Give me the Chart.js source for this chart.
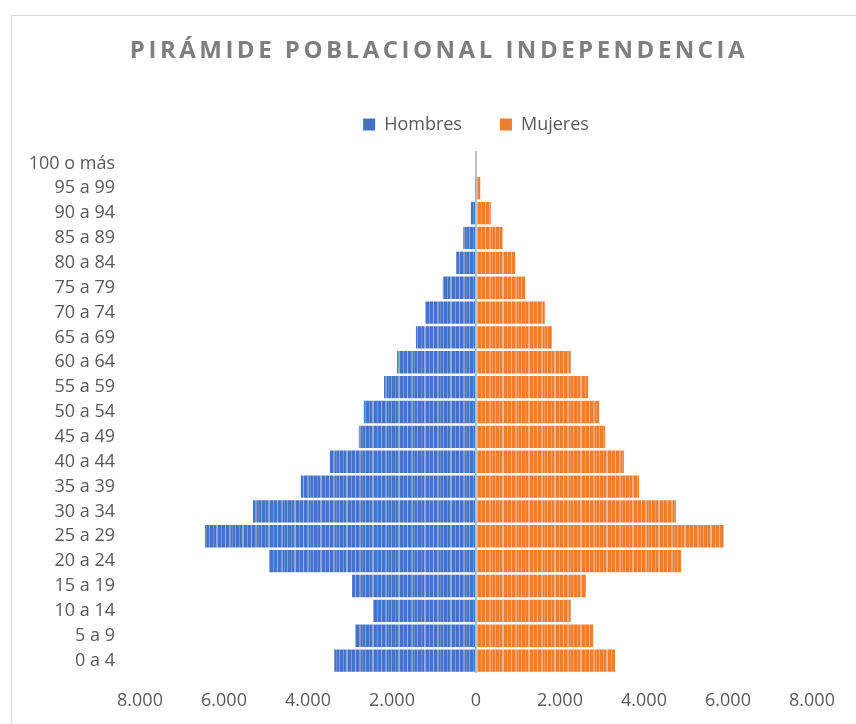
<!DOCTYPE html>
<html>
<head>
<meta charset="utf-8">
<script src="https://cdn.jsdelivr.net/npm/chart.js@4.4.1/dist/chart.umd.min.js"></script>
<style>
  html, body { margin: 0; padding: 0; background: #ffffff; overflow: hidden; }
  #frame { position: absolute; left: 11px; top: 15px; width: 900px; height: 800px;
           border-top: 1px solid #d9d9d9; border-left: 1px solid #d9d9d9; }
  #wrap { position: absolute; left: 0; top: 0; width: 856px; height: 724px; }
</style>
</head>
<body>
<div id="frame"></div>
<div id="wrap"><canvas id="c" width="856" height="724"></canvas></div>
<script>
// ---- Data (age groups from youngest to oldest) ----
const ageGroups = ["0 a 4","5 a 9","10 a 14","15 a 19","20 a 24","25 a 29","30 a 34","35 a 39",
  "40 a 44","45 a 49","50 a 54","55 a 59","60 a 64","65 a 69","70 a 74","75 a 79",
  "80 a 84","85 a 89","90 a 94","95 a 99","100 o más"];
const hombres = [3380, 2880, 2450, 2950, 4930, 6450, 5310, 4170, 3480, 2790, 2670, 2190,
  1880, 1430, 1210, 790, 470, 310, 120, 15, 0];
const mujeres = [3310, 2790, 2260, 2620, 4880, 5900, 4760, 3880, 3520, 3070, 2930, 2670,
  2260, 1810, 1640, 1170, 930, 640, 360, 100, 0];
const seriesNames = ["Hombres", "Mujeres"];
const xTicks = [-8000, -6000, -4000, -2000, 0, 2000, 4000, 6000, 8000];

const colors = ["#4472C4", "#ED7D31"];

function stripePattern(base) {
  const p = document.createElement('canvas');
  p.width = 26; p.height = 4;
  const g = p.getContext('2d');
  g.fillStyle = base; g.fillRect(0, 0, p.width, p.height);
  const stripes = [[1,1,0.35],[5,1,0.25],[8,2,0.4],[13,1,0.3],[17,1,0.45],[21,2,0.3],[24,1,0.2]];
  stripes.forEach(([x,w,a]) => { g.fillStyle = 'rgba(255,255,255,' + a + ')'; g.fillRect(x, 0, w, p.height); });
  return g.createPattern(p, 'repeat');
}

function fmt(v) {
  const s = String(Math.abs(Math.round(v)));
  return s.replace(/\B(?=(\d{3})+(?!\d))/g, '.');
}

const labelFont = { family: "'Open Sans', sans-serif", size: 18 };

const titleSpacing = {
  id: 'titleSpacing',
  beforeDraw(chart) {
    const tb = chart.titleBlock;
    if (tb && !tb._patched) {
      const orig = tb.draw.bind(tb);
      tb.draw = function () {
        const ctx = chart.ctx;
        ctx.save();
        ctx.letterSpacing = '3.5px';
        orig();
        ctx.restore();
      };
      tb._patched = true;
    }
  }
};

const ctx = document.getElementById('c').getContext('2d');
new Chart(ctx, {
  type: 'bar',
  data: {
    labels: ageGroups,
    datasets: [
      { label: seriesNames[0], data: hombres.map(v => -v), backgroundColor: stripePattern(colors[0]),
        xAxisID: 'x', yAxisID: 'y',
        borderWidth: 0, barPercentage: 0.9, categoryPercentage: 1.0 },
      { label: seriesNames[1], data: mujeres, backgroundColor: stripePattern(colors[1]),
        xAxisID: 'x', yAxisID: 'y',
        borderWidth: 0, barPercentage: 0.9, categoryPercentage: 1.0 }
    ]
  },
  options: {
    indexAxis: 'y',
    responsive: false,
    animation: false,
    devicePixelRatio: 1,
    layout: { padding: { left: 22, right: 0, top: 0, bottom: 0 } },
    plugins: {
      title: {
        display: true,
        text: 'PIRÁMIDE POBLACIONAL INDEPENDENCIA',
        color: '#7f7f7f',
        font: { family: "'Open Sans', sans-serif", size: 24, weight: 'bold', lineHeight: 1.2 },
        padding: { top: 37, bottom: 11.7 }
      },
      legend: {
        display: true,
        position: 'top',
        fullSize: false,
        labels: {
          color: '#595959',
          font: labelFont,
          boxWidth: 12,
          boxHeight: 12,
          padding: 38,
          generateLabels(chart) {
            return chart.data.datasets.map((ds, i) => ({
              text: ds.label, fillStyle: colors[i], strokeStyle: colors[i], lineWidth: 0,
              hidden: false, datasetIndex: i, fontColor: '#595959'
            }));
          }
        }
      },
      tooltip: { enabled: false }
    },
    scales: {
      y: {
        type: 'category',
        stacked: true,
        reverse: true,
        afterFit(scale) { scale.width = 118; },
        border: { display: false },
        grid: { display: false },
        ticks: { color: '#595959', font: labelFont, padding: 17 }
      },
      x: {
        type: 'linear',
        position: 'bottom',
        stacked: true,
        min: -8000,
        max: 8000,
        afterBuildTicks(scale) { scale.ticks = xTicks.map(v => ({ value: v })); },
        afterFit(scale) { scale.height = 51; },
        border: { display: false },
        grid: {
          drawTicks: false,
          lineWidth: 2,
          color: (c) => (c.tick && c.tick.value === 0) ? '#bfbfbf' : 'rgba(0,0,0,0)'
        },
        ticks: { color: '#595959', font: labelFont, padding: 17, callback: (v) => fmt(v) }
      },
      xTop: {
        type: 'linear',
        position: 'top',
        display: true,
        afterFit(scale) { scale.height = 7.5; },
        border: { display: false },
        grid: { display: false },
        ticks: { display: false }
      },
      yRight: {
        type: 'linear',
        position: 'right',
        display: true,
        afterFit(scale) { scale.width = 44; },
        border: { display: false },
        grid: { display: false },
        ticks: { display: false }
      }
    }
  },
  plugins: [titleSpacing]
});
</script>
</body>
</html>
